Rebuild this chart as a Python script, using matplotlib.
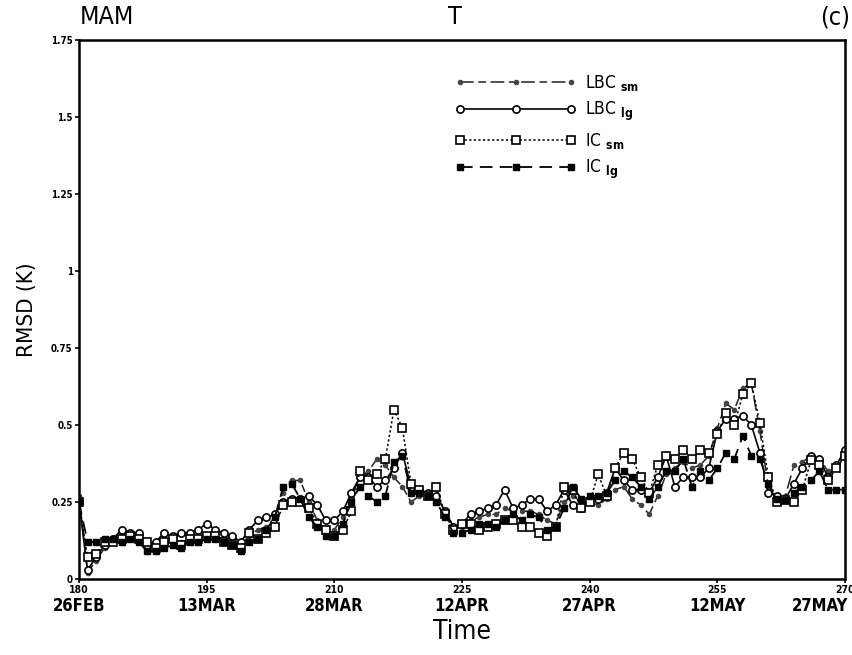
import matplotlib
matplotlib.use("Agg")
import matplotlib.pyplot as plt
import matplotlib.transforms as mtransforms
import numpy as np

# === Data (daily RMSD of T, MAM, days 180..270) ===
days = np.arange(180, 271)

lbc_sm = [0.27, 0.02, 0.06, 0.10, 0.12, 0.13, 0.14, 0.13, 0.11, 0.10,
          0.12, 0.13, 0.12, 0.13, 0.13, 0.14, 0.14, 0.13, 0.12, 0.11,
          0.14, 0.16, 0.17, 0.20, 0.28, 0.32, 0.32, 0.25, 0.19, 0.16,
          0.16, 0.20, 0.27, 0.33, 0.35, 0.39, 0.37, 0.33, 0.30, 0.25,
          0.27, 0.28, 0.27, 0.22, 0.17, 0.17, 0.19, 0.20, 0.21, 0.21,
          0.23, 0.22, 0.22, 0.22, 0.21, 0.19, 0.18, 0.25, 0.27, 0.25,
          0.25, 0.24, 0.26, 0.29, 0.30, 0.26, 0.24, 0.21, 0.27, 0.34,
          0.36, 0.38, 0.36, 0.37, 0.40, 0.49, 0.57, 0.55, 0.62, 0.635,
          0.48, 0.30, 0.26, 0.27, 0.37, 0.38, 0.40, 0.39, 0.35, 0.36,
          0.40]

lbc_lg = [0.25, 0.03, 0.07, 0.11, 0.13, 0.16, 0.15, 0.15, 0.11, 0.12,
          0.15, 0.14, 0.15, 0.15, 0.16, 0.18, 0.16, 0.15, 0.14, 0.12,
          0.16, 0.19, 0.20, 0.21, 0.25, 0.26, 0.26, 0.27, 0.24, 0.19,
          0.19, 0.22, 0.28, 0.33, 0.33, 0.30, 0.32, 0.36, 0.41, 0.30,
          0.29, 0.28, 0.27, 0.22, 0.17, 0.18, 0.21, 0.22, 0.23, 0.24,
          0.29, 0.23, 0.24, 0.26, 0.26, 0.22, 0.24, 0.29, 0.24, 0.23,
          0.26, 0.26, 0.28, 0.36, 0.32, 0.29, 0.29, 0.28, 0.33, 0.40,
          0.30, 0.33, 0.33, 0.33, 0.36, 0.48, 0.52, 0.52, 0.53, 0.50,
          0.41, 0.28, 0.27, 0.26, 0.31, 0.36, 0.40, 0.39, 0.33, 0.37,
          0.42]

ic_sm = [0.25, 0.07, 0.08, 0.12, 0.12, 0.13, 0.14, 0.13, 0.12, 0.10,
         0.12, 0.13, 0.11, 0.13, 0.13, 0.14, 0.14, 0.12, 0.11, 0.10,
         0.15, 0.13, 0.15, 0.17, 0.24, 0.25, 0.25, 0.23, 0.18, 0.16,
         0.14, 0.16, 0.22, 0.35, 0.32, 0.34, 0.39, 0.55, 0.49, 0.31,
         0.29, 0.27, 0.30, 0.21, 0.16, 0.18, 0.18, 0.16, 0.17, 0.18,
         0.19, 0.19, 0.17, 0.17, 0.15, 0.14, 0.17, 0.30, 0.29, 0.23,
         0.25, 0.34, 0.27, 0.36, 0.41, 0.39, 0.33, 0.28, 0.37, 0.40,
         0.39, 0.42, 0.39, 0.42, 0.41, 0.47, 0.54, 0.50, 0.60, 0.635,
         0.505, 0.33, 0.25, 0.255, 0.25, 0.29, 0.385, 0.37, 0.32, 0.36,
         0.40]

ic_lg = [0.25, 0.12, 0.12, 0.13, 0.13, 0.12, 0.13, 0.12, 0.09, 0.09,
         0.10, 0.11, 0.10, 0.12, 0.12, 0.13, 0.13, 0.12, 0.11, 0.09,
         0.12, 0.13, 0.16, 0.20, 0.30, 0.31, 0.26, 0.20, 0.17, 0.14,
         0.14, 0.18, 0.25, 0.30, 0.27, 0.25, 0.27, 0.38, 0.40, 0.28,
         0.28, 0.27, 0.25, 0.20, 0.15, 0.15, 0.16, 0.18, 0.18, 0.17,
         0.19, 0.21, 0.19, 0.21, 0.20, 0.16, 0.17, 0.23, 0.30, 0.26,
         0.27, 0.27, 0.28, 0.32, 0.35, 0.33, 0.30, 0.26, 0.30, 0.35,
         0.35, 0.39, 0.30, 0.35, 0.32, 0.36, 0.41, 0.39, 0.465, 0.40,
         0.39, 0.31, 0.26, 0.255, 0.28, 0.30, 0.32, 0.35, 0.29, 0.29,
         0.29]

xticks = [180, 195, 210, 225, 240, 255, 270]
date_labels = ['26FEB', '13MAR', '28MAR', '12APR', '27APR', '12MAY', '27MAY']
yticks = [0, 0.25, 0.5, 0.75, 1.0, 1.25, 1.5, 1.75]
ytick_labels = ['0', '0.25', '0.5', '0.75', '1', '1.25', '1.5', '1.75']

plt.rcParams['font.family'] = ['DejaVu Sans']
plt.rcParams['font.stretch'] = 'condensed'

fig = plt.figure(figsize=(8.53, 6.55), dpi=100)
ax = fig.add_axes([79 / 853, 1 - 579 / 655, (845 - 79) / 853, (579 - 40) / 655])

ax.plot(days, lbc_sm, color='#222222', lw=1.1, dashes=(9, 3, 5, 3),
        marker='o', ms=3, mfc='#444444', mec='#444444', label=r'LBC $_{\mathbf{sm}}$')
ax.plot(days, lbc_lg, color='black', lw=1.2, linestyle='-',
        marker='o', ms=5.2, mfc='white', mec='black', mew=1.2, label=r'LBC $_{\mathbf{lg}}$')
ax.plot(days, ic_sm, color='black', lw=1.1, dashes=(1.5, 1.5),
        marker='s', ms=6, mfc='white', mec='black', mew=1.2, label=r'IC $_{\mathbf{sm}}$')
ax.plot(days, ic_lg, color='black', lw=1.3, dashes=(7, 4),
        marker='s', ms=5, mfc='black', mec='black', label=r'IC $_{\mathbf{lg}}$')

ax.set_xlim(180, 270)
ax.set_ylim(0, 1.75)
ax.set_xticks(xticks)
ax.set_xticklabels([str(t) for t in xticks], fontsize=7.5, fontweight='bold')
ax.set_yticks(yticks)
ax.set_yticklabels(ytick_labels, fontsize=7, fontweight='bold')
ax.tick_params(axis='both', direction='out', length=3, width=1.2, pad=1.5)
for s in ax.spines.values():
    s.set_linewidth(1.8)

# date labels under the day numbers
trans = mtransforms.blended_transform_factory(ax.transData, ax.transAxes)
for t, lab in zip(xticks, date_labels):
    ha = 'right' if t == xticks[-1] else 'center'
    xpos = 270.4 if t == xticks[-1] else t
    ax.text(xpos, -0.05, lab, transform=trans, ha=ha, va='center',
            fontsize=12, fontweight='bold', clip_on=False)

fig.text(462 / 853, 1 - 632 / 655, 'Time', ha='center', va='center', fontsize=19)
fig.text(27 / 853, 1 - 310 / 655, 'RMSD (K)', ha='center', va='center',
         rotation=90, fontsize=16)

fig.text(80 / 853, 1 - 17 / 655, 'MAM', ha='left', va='center', fontsize=18)
fig.text(455 / 853, 1 - 17 / 655, 'T', ha='center', va='center', fontsize=18)
fig.text(850 / 853, 1 - 17 / 655, '(c)', ha='right', va='center', fontsize=18)

leg = ax.legend(loc='upper left', bbox_to_anchor=(0.482, 0.952), frameon=False,
                numpoints=3, handlelength=7.0, fontsize=12.5, labelspacing=0.42,
                handletextpad=0.5, borderaxespad=0)

fig.savefig('out.png', dpi=100)
plt.close(fig)
